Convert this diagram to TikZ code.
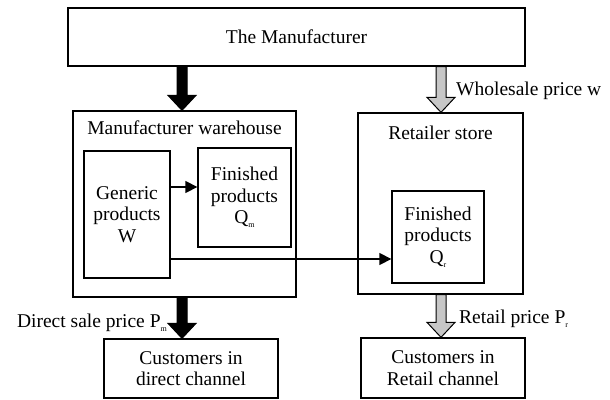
\documentclass[tikz,border=0pt]{standalone}
\usepackage{fontspec}
\setmainfont{Liberation Serif}
\usetikzlibrary{calc,arrows.meta}
\newcommand{\lidx}[1]{\raisebox{-0.45ex}{\fontsize{8}{8}\selectfont #1}}
\begin{document}
\begin{tikzpicture}[x=1pt,y=-1pt,
  box/.style={draw=black,line width=1.3pt,rectangle,inner sep=0pt,
    font=\fontsize{19.5}{21.5}\selectfont,align=center},
  lbl/.style={font=\fontsize{19.5}{21.5}\selectfont,inner sep=0pt},
  blockarrow/.style={line width=1pt,draw=black,to path={
    let \p1=(\tikztostart), \p2=(\tikztotarget) in
    (\x1-5pt,\y1) -- (\x1-5pt,\y2+15pt) -- (\x1-14pt,\y2+15pt) -- (\x2,\y2)
    -- (\x1+14pt,\y2+15pt) -- (\x1+5pt,\y2+15pt) -- (\x1+5pt,\y1) -- cycle}},
  darkflow/.style={blockarrow,fill=black},
  lightflow/.style={blockarrow,fill=black!22},
  thinarrow/.style={line width=1.3pt,-{Triangle[length=12pt,width=12pt]}}]
\useasboundingbox (0,0) rectangle (610,399);

% boxes
\node[box,minimum width=457pt,minimum height=58pt] (mfr) at (296.5,37) {The Manufacturer};
\node[box,minimum width=223pt,minimum height=186pt] (wh) at (184.5,204) {};
\node[lbl] (whT) at (184.5,128) {Manufacturer warehouse};
\node[box,minimum width=86pt,minimum height=127pt] (gen) at (127,214.5) {Generic\\products\\W};
\node[box,minimum width=93pt,minimum height=99pt] (fm) at (244.5,197.5) {Finished\\products\\Q\lidx{m}};
\node[box,minimum width=165pt,minimum height=181pt] (rt) at (440.5,203.5) {};
\node[lbl] (rtT) at (440.5,133) {Retailer store};
\node[box,minimum width=92pt,minimum height=92pt] (fr) at (438,237) {Finished\\products\\Q\lidx{r}};
\node[box,minimum width=174pt,minimum height=59pt] (cd) at (191,368.5) {Customers in\\direct channel};
\node[box,minimum width=164pt,minimum height=60pt] (cr) at (443,368) {Customers in\\Retail channel};

% guide coordinates for the flows
\coordinate (lx) at (182,0);
\coordinate (rx) at (441,0);
\coordinate (ya) at (0,187);
\coordinate (yb) at (0,259);

% product / price flows
\draw[darkflow] (mfr.south -| lx) to (wh.north -| lx);
\draw[lightflow] (mfr.south -| rx) to (rt.north -| rx);
\draw[darkflow] (wh.south -| lx) to (cd.north -| lx);
\draw[lightflow] (rt.south -| rx) to (cr.north -| rx);

\draw[thinarrow] (gen.east |- ya) -- (fm.west |- ya);
\draw[thinarrow] (gen.east |- yb) -- (fr.west |- yb);

% price labels
\node[lbl,anchor=base west] (wl) at (456,95) {Wholesale price w};
\node[lbl,anchor=base east] (dl) at (167,327) {Direct sale price P\lidx{m}};
\node[lbl,anchor=base west] (rl) at (459,323) {Retail price P\lidx{r}};
\end{tikzpicture}
\end{document}
